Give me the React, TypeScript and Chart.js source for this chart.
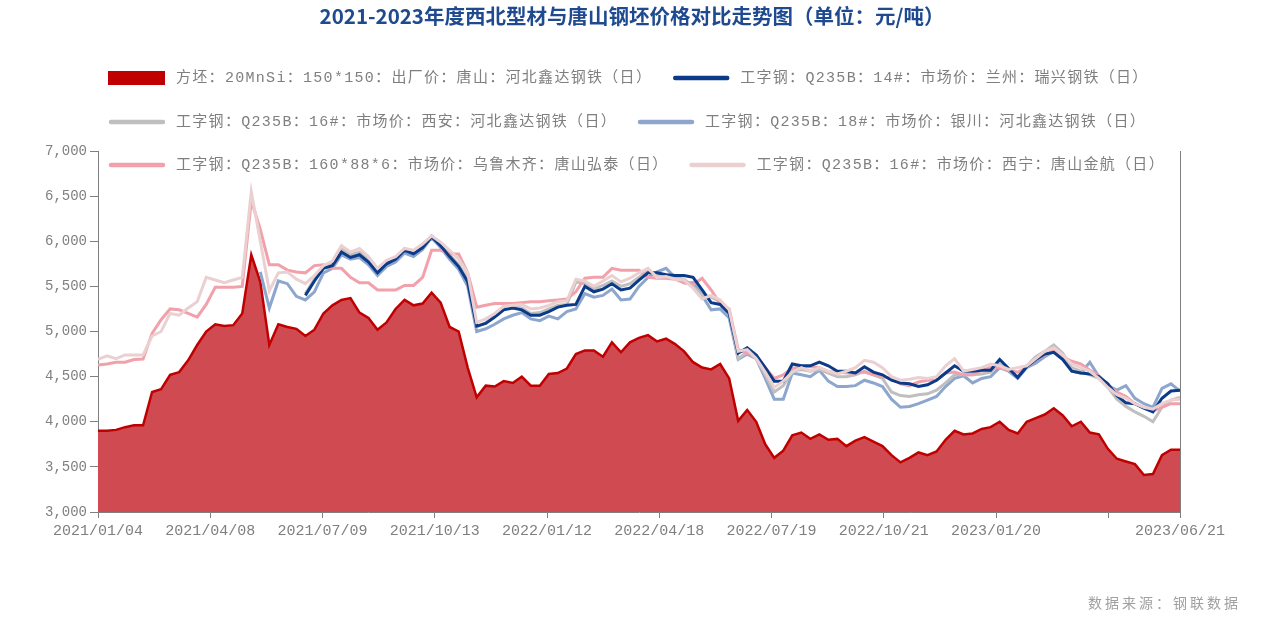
import React, { useEffect, useRef } from 'react';
import { Chart, registerables } from 'chart.js';

Chart.register(...registerables);

const TITLE = '2021-2023年度西北型材与唐山钢坯价格对比走势图（单位：元/吨）';
const SOURCE = '数据来源：钢联数据';

// x positions are week numbers (0 = 2021/01/04, 120 = 2023/06/21)
const TICK_POS = [0, 12.45, 24.9, 37.35, 49.8, 62.25, 74.7, 87.15, 99.6, 112.05, 120];
const TICK_LABELS = ['2021/01/04', '2021/04/08', '2021/07/09', '2021/10/13', '2022/01/12', '2022/04/18', '2022/07/19', '2022/10/21', '2023/01/20', '', '2023/06/21'];
const Y_TICKS = [3000, 3500, 4000, 4500, 5000, 5500, 6000, 6500, 7000];

const NAMES = [
  '方坯：20MnSi：150*150：出厂价：唐山：河北鑫达钢铁（日）',
  '工字钢：Q235B：14#：市场价：兰州：瑞兴钢铁（日）',
  '工字钢：Q235B：16#：市场价：西安：河北鑫达钢铁（日）',
  '工字钢：Q235B：18#：市场价：银川：河北鑫达钢铁（日）',
  '工字钢：Q235B：160*88*6：市场价：乌鲁木齐：唐山弘泰（日）',
  '工字钢：Q235B：16#：市场价：西宁：唐山金航（日）',
];

const BILLET = [
  3900, 3900, 3910, 3940, 3960, 3960, 4330, 4360, 4520, 4550,
  4680, 4850, 5000, 5080, 5060, 5070, 5200, 5850, 5550, 4850,
  5080, 5050, 5030, 4950, 5020, 5200, 5290, 5350, 5370, 5210,
  5150, 5020, 5100, 5250, 5350, 5290, 5310, 5430, 5320, 5050,
  5000, 4600, 4270, 4400, 4390, 4450, 4430, 4500, 4400, 4400,
  4530, 4540, 4590, 4750, 4790, 4790, 4720, 4880, 4770, 4880,
  4930, 4960, 4890, 4920, 4860, 4780, 4660, 4600, 4580, 4640,
  4480, 4010, 4130, 4000, 3750, 3600, 3680, 3850, 3880, 3810,
  3860, 3800, 3810, 3730, 3790, 3830, 3780, 3730, 3630, 3550,
  3600, 3660, 3630, 3670, 3800, 3900, 3860, 3870, 3920, 3940,
  4000, 3910, 3870, 4000, 4040, 4080, 4150, 4070, 3950, 4000,
  3880, 3860, 3700, 3590, 3560, 3530, 3410, 3420, 3630, 3690,
  3690,
];

// starts at week 23
const LANZHOU_START = 23;
const LANZHOU = [
  5400, 5560, 5700, 5730, 5880, 5820, 5850,
  5770, 5650, 5750, 5800, 5900, 5860, 5930, 6050, 5950, 5830,
  5720, 5550, 5060, 5090, 5160, 5240, 5260, 5240, 5180, 5180,
  5220, 5270, 5290, 5300, 5500, 5440, 5470, 5530, 5460, 5480,
  5570, 5650, 5650, 5630, 5620, 5620, 5600, 5460, 5320, 5300,
  5200, 4760, 4820, 4740, 4600, 4450, 4450, 4640, 4620, 4620,
  4660, 4620, 4560, 4560, 4540, 4610, 4550, 4520, 4460, 4430,
  4420, 4390, 4410, 4460, 4540, 4620, 4560, 4560, 4570, 4570,
  4690, 4590, 4490, 4610, 4690, 4750, 4770, 4690, 4560, 4540,
  4530, 4500, 4420, 4290, 4210, 4200, 4150, 4110, 4260, 4340,
  4350,
];

// starts at week 23
const XIAN_START = 23;
const XIAN = [
  5420, 5580, 5720, 5760, 5920, 5850, 5880,
  5800, 5680, 5770, 5820, 5920, 5880, 5950, 6060, 5970, 5850,
  5740, 5580, 5050, 5100, 5170, 5250, 5270, 5260, 5200, 5210,
  5250, 5290, 5300, 5550, 5530, 5470, 5510, 5560, 5500, 5530,
  5600, 5680, 5620, 5630, 5600, 5580, 5500, 5400, 5380, 5330,
  5230, 4700, 4770, 4700, 4520, 4330, 4400, 4560, 4580, 4560,
  4580, 4540, 4500, 4500, 4520, 4560, 4520, 4480, 4330, 4290,
  4280, 4300, 4310, 4350, 4430, 4520, 4520, 4520, 4530, 4550,
  4640, 4580, 4500, 4620, 4720, 4780, 4850, 4760, 4600, 4560,
  4520, 4480, 4380, 4250, 4170, 4110, 4060, 4000, 4160, 4240,
  4270,
];

// starts at week 18
const YINCHUAN_START = 18;
const YINCHUAN = [
  5660, 5260,
  5560, 5530, 5390, 5350, 5440, 5650, 5700, 5850, 5800, 5820,
  5740, 5620, 5720, 5770, 5870, 5830, 5910, 6040, 5930, 5800,
  5690, 5500, 5000, 5030, 5080, 5140, 5180, 5210, 5140, 5120,
  5170, 5140, 5220, 5250, 5420, 5380, 5400, 5470, 5350, 5360,
  5500, 5600, 5660, 5700, 5600, 5540, 5540, 5400, 5240, 5250,
  5150, 4690, 4750, 4700, 4480, 4250, 4250, 4540, 4520, 4500,
  4570, 4450, 4390, 4390, 4400, 4460, 4430, 4390, 4250, 4160,
  4170, 4200, 4240, 4280, 4390, 4480, 4510, 4430, 4480, 4500,
  4600, 4560, 4480, 4600, 4650, 4720, 4780, 4700, 4560, 4540,
  4660, 4500, 4400, 4350, 4400, 4260, 4200, 4160, 4370, 4420,
  4340,
];

const URUMQI = [
  4630, 4640, 4660, 4660, 4690, 4695, 4980, 5130, 5250, 5240,
  5200, 5160, 5300, 5490, 5490, 5490, 5500, 6450, 6130, 5740,
  5740, 5680, 5660, 5650, 5730, 5740, 5700, 5700, 5600, 5540,
  5540, 5460, 5460, 5460, 5510, 5510, 5600, 5900, 5900, 5860,
  5860, 5650, 5270, 5290, 5310, 5310, 5310, 5320, 5330, 5330,
  5340, 5350, 5360, 5440, 5590, 5600, 5600, 5700, 5680, 5680,
  5680, 5600, 5590, 5590, 5580, 5540, 5520, 5590, 5460, 5310,
  5250, 4800, 4760, 4720, 4600, 4480, 4520, 4590, 4610, 4610,
  4600, 4555, 4550, 4540, 4540, 4550, 4520, 4500, 4480, 4420,
  4400, 4440, 4460, 4460, 4540, 4550, 4520, 4520, 4570, 4600,
  4600, 4570, 4550, 4600, 4690, 4740, 4790, 4720, 4670, 4640,
  4570, 4510, 4400, 4330, 4280, 4200, 4150, 4120, 4160, 4200,
  4200,
];

const XINING = [
  4690, 4730, 4700, 4740, 4740, 4740, 4950, 5000, 5200, 5180,
  5260, 5330, 5600, 5570, 5540, 5570, 5600, 6550, 6000, 5450,
  5650, 5660, 5580, 5530, 5620, 5730, 5780, 5950, 5880, 5920,
  5830, 5700, 5790, 5830, 5920, 5900, 5970, 6060, 5990, 5900,
  5800, 5650, 5100, 5140, 5200, 5280, 5290, 5300, 5250, 5260,
  5290, 5330, 5340, 5580, 5560, 5500, 5560, 5620, 5550, 5590,
  5650, 5700, 5600, 5610, 5580, 5570, 5480, 5360, 5400, 5350,
  5240, 4780, 4800, 4700, 4550, 4380, 4450, 4550, 4600, 4560,
  4600, 4560, 4530, 4560, 4600, 4680, 4660, 4600, 4500, 4460,
  4470, 4490, 4480, 4500, 4620, 4700, 4560, 4580, 4600, 4640,
  4620, 4580, 4600, 4620, 4700, 4780, 4820, 4740, 4640, 4600,
  4560, 4480, 4380, 4300, 4260, 4200, 4160, 4140, 4200, 4240,
  4250,
];

const COLORS = ['#C00000', '#0B3A88', '#BFBFBF', '#8DA6CE', '#F2A1AA', '#EBD0D1'];
const BILLET_FILL = '#D04B51';

const pad = (start: number, arr: number[]) => [...Array(start).fill(null), ...arr];

const overlayPlugin = {
  id: 'overlay',
  afterDraw(chart: any) {
    const ctx: CanvasRenderingContext2D = chart.ctx;
    const ca = chart.chartArea;
    ctx.save();
    // right frame line
    ctx.strokeStyle = '#7F7F7F';
    ctx.lineWidth = 1;
    const rx = Math.round(ca.right) + 0.5;
    ctx.beginPath();
    ctx.moveTo(rx, ca.top);
    ctx.lineTo(rx, ca.bottom);
    ctx.stroke();

    // title
    ctx.font = 'bold 20.5px "Noto Sans CJK SC", sans-serif';
    ctx.fillStyle = '#1F4A8F';
    ctx.textAlign = 'center';
    ctx.textBaseline = 'middle';
    ctx.fillText(TITLE, 632, 16);

    // legend
    const rows = [[0, 1], [2, 3], [4, 5]];
    const rowY = [78, 122, 165];
    ctx.font = '15px "Liberation Mono", "Noto Sans CJK SC", monospace';
    (ctx as any).letterSpacing = '1.3px';
    ctx.textAlign = 'left';
    const ds = chart.data.datasets;
    rows.forEach((row, r) => {
      let x = ca.left + 10;
      const y = rowY[r];
      row.forEach((idx) => {
        const d = ds[idx];
        if (idx === 0) {
          ctx.fillStyle = d.borderColor;
          ctx.fillRect(x, y - 7, 57, 14);
        } else {
          ctx.strokeStyle = d.borderColor;
          ctx.lineWidth = 4.5;
          ctx.lineCap = 'round';
          ctx.beginPath();
          ctx.moveTo(x + 3, y);
          ctx.lineTo(x + 55, y);
          ctx.stroke();
        }
        ctx.fillStyle = '#7F7F7F';
        const tx = x + 68;
        ctx.fillText(d.label, tx, y);
        x = tx + ctx.measureText(d.label).width + 20;
      });
    });

    // source
    ctx.font = '14px "Noto Sans CJK SC", sans-serif';
    (ctx as any).letterSpacing = '3px';
    ctx.fillStyle = '#A0A0A0';
    ctx.textAlign = 'right';
    ctx.fillText(SOURCE, 1241, 603);
    ctx.restore();
  },
};

export default function App() {
  const ref = useRef<HTMLCanvasElement | null>(null);

  useEffect(() => {
    if (!ref.current) return;
    const labels = BILLET.map((_, i) => i);
    const lineDs = (i: number, data: (number | null)[], order: number) => ({
      type: 'line' as const,
      label: NAMES[i],
      data,
      borderColor: COLORS[i],
      backgroundColor: COLORS[i],
      borderWidth: 3,
      pointRadius: 0,
      fill: false,
      tension: 0,
      order,
    });
    const chart = new Chart(ref.current, {
      type: 'line',
      data: {
        labels,
        datasets: [
          {
            label: NAMES[0],
            data: BILLET,
            borderColor: COLORS[0],
            backgroundColor: BILLET_FILL,
            borderWidth: 2.5,
            pointRadius: 0,
            fill: 'start',
            tension: 0,
            order: 6,
          },
          lineDs(1, pad(LANZHOU_START, LANZHOU), 1),
          lineDs(2, pad(XIAN_START, XIAN), 3),
          lineDs(3, pad(YINCHUAN_START, YINCHUAN), 4),
          lineDs(4, URUMQI, 2),
          lineDs(5, XINING, 0),
        ],
      },
      options: {
        responsive: false,
        animation: false,
        layout: { padding: { top: 151, right: 85, bottom: 0, left: 0 } },
        plugins: {
          legend: { display: false },
          title: { display: false },
          tooltip: { enabled: false },
        },
        scales: {
          x: {
            type: 'linear',
            min: 0,
            max: 120,
            afterBuildTicks: (scale: any) => {
              scale.ticks = TICK_POS.map((v) => ({ value: v }));
            },
            afterFit: (scale: any) => {
              scale.height = 115;
            },
            ticks: {
              autoSkip: false,
              maxRotation: 0,
              minRotation: 0,
              padding: 4,
              color: '#7F7F7F',
              font: { family: '"Liberation Mono", monospace', size: 15 },
              callback: (_v: any, i: number) => TICK_LABELS[i],
            },
            grid: {
              display: true,
              drawOnChartArea: false,
              drawTicks: true,
              tickLength: 6,
              color: '#7F7F7F',
            },
            border: { display: true, color: '#7F7F7F', width: 1 },
          },
          y: {
            type: 'linear',
            min: 3000,
            max: 7000,
            afterBuildTicks: (scale: any) => {
              scale.ticks = Y_TICKS.map((v) => ({ value: v }));
            },
            afterFit: (scale: any) => {
              scale.width = 98;
            },
            ticks: {
              padding: 3,
              color: '#7F7F7F',
              font: { family: '"Liberation Mono", monospace', size: 14 },
              callback: (v: any) => Number(v).toLocaleString('en-US'),
            },
            grid: {
              display: true,
              drawOnChartArea: false,
              drawTicks: true,
              tickLength: 8,
              color: '#7F7F7F',
            },
            border: { display: true, color: '#7F7F7F', width: 1 },
          },
        },
      },
      plugins: [overlayPlugin],
    });
    return () => chart.destroy();
  }, []);

  return (
    <div style={{ position: 'absolute', left: 0, top: 0, width: 1265, height: 627, background: '#fff' }}>
      <canvas ref={ref} width={1265} height={627} style={{ width: 1265, height: 627, display: 'block' }} />
    </div>
  );
}
